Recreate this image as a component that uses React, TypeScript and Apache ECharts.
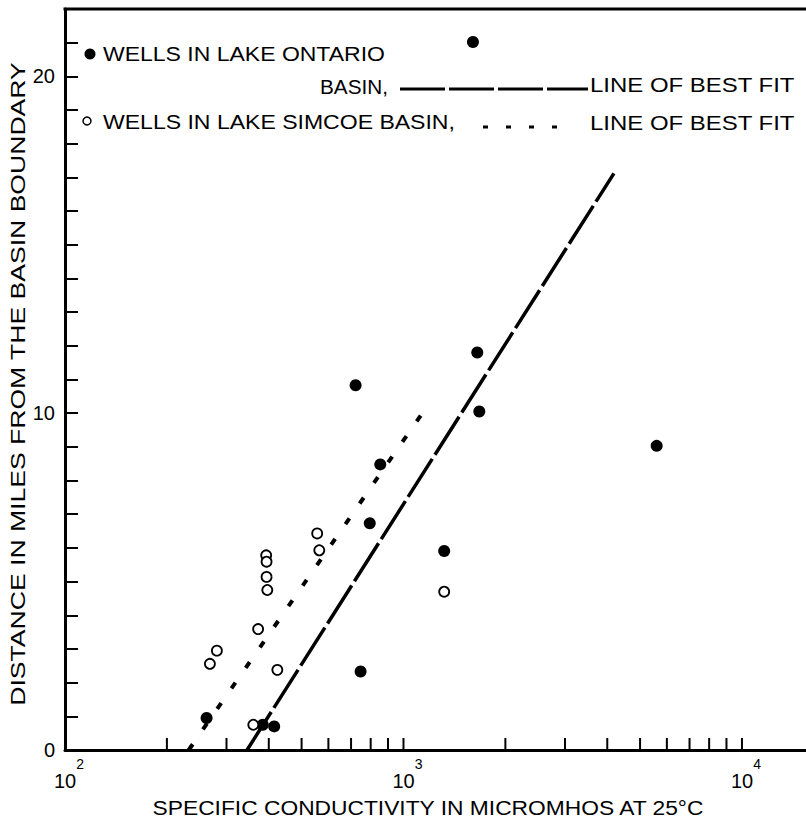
import React, { useEffect, useRef } from "react";
import * as echarts from "echarts";

// Lake Ontario basin wells (filled circles)
const ontarioConductivity = [1604, 1652, 722, 1675, 5598, 854, 795, 1319, 747, 262, 384, 415];
const ontarioDistance = [21.02, 11.8, 10.83, 10.05, 9.03, 8.48, 6.73, 5.91, 2.33, 0.95, 0.75, 0.7];
// Lake Simcoe basin wells (open circles)
const simcoeConductivity = [393, 394, 394, 396, 556, 564, 372, 281, 268, 424, 360, 1319];
const simcoeDistance = [5.78, 5.59, 5.14, 4.75, 6.43, 5.93, 3.59, 2.95, 2.56, 2.38, 0.75, 4.7];
// Lines of best fit (end points)
const ontarioFitConductivity = [345, 4186];
const ontarioFitDistance = [0, 17.12];
const simcoeFitConductivity = [232, 1144];
const simcoeFitDistance = [0, 10.04];
// Axis ticks / labels
const xTickValues = [200, 300, 400, 500, 600, 700, 800, 900, 1000, 2000, 3000, 4000, 5000, 6000, 7000, 8000, 9000, 10000];
const yLabelValues = [0, 10, 20];
const xMin = 100;
const xMax = 15460;
const yMin = 0;
const yMax = 22;

const FONT = "Liberation Sans";

const zip = (a: number[], b: number[]) => a.map((v, i) => [v, b[i]]);

function measure(text: string, size: number): number {
  const ctx = document.createElement("canvas").getContext("2d");
  if (!ctx) return text.length * size * 0.6;
  ctx.font = `${size}px "${FONT}"`;
  return ctx.measureText(text).width;
}

type TextSpec = { t: string; x: number; y: number; w: number; size: number; rot?: number; align?: string };

const textSpecs: TextSpec[] = [
  { t: "WELLS IN LAKE ONTARIO", x: 103, y: 54, w: 282, size: 21 },
  { t: "BASIN,", x: 320, y: 86, w: 68, size: 21 },
  { t: "LINE OF BEST FIT", x: 590, y: 85, w: 205, size: 21 },
  { t: "WELLS IN LAKE SIMCOE BASIN,", x: 103, y: 122, w: 352, size: 21 },
  { t: "LINE OF BEST FIT", x: 590, y: 123, w: 205, size: 21 },
  { t: "SPECIFIC CONDUCTIVITY IN MICROMHOS AT 25°C", x: 428, y: 808, w: 553, size: 21, align: "center" },
  { t: "DISTANCE IN MILES FROM THE BASIN BOUNDARY", x: 18, y: 384, w: 644, size: 21, rot: Math.PI / 2, align: "center" },
];

export default function App() {
  const ref = useRef<HTMLDivElement>(null);

  useEffect(() => {
    if (!ref.current) return;
    const chart = echarts.init(ref.current, undefined, { renderer: "svg" });

    const textGraphics = textSpecs.map((s) => {
      const natural = measure(s.t, s.size);
      return {
        type: "text",
        x: s.x,
        y: s.y,
        rotation: s.rot || 0,
        scaleX: s.w / natural,
        style: {
          text: s.t,
          x: 0,
          y: 0,
          fill: "#000",
          font: `${s.size}px "${FONT}"`,
          textAlign: s.align || "left",
          textVerticalAlign: "middle",
        },
        silent: true,
      };
    });

    const option: any = {
      animation: false,
      backgroundColor: "#fff",
      textStyle: { fontFamily: FONT, color: "#000" },
      grid: { left: 65, right: 0, top: 9, bottom: 75, containLabel: false, outerBoundsMode: "none" },
      xAxis: {
        type: "log",
        logBase: 10,
        min: xMin,
        max: xMax,
        axisLine: { show: true, onZero: false, lineStyle: { color: "#000", width: 3 } },
        axisTick: { show: false },
        splitLine: { show: false },
        minorTick: { show: false },
        minorSplitLine: { show: false },
        axisLabel: {
          show: true,
          margin: 7,
          color: "#000",
          formatter: (v: number) => {
            const e = Math.round(Math.log10(v));
            if (Math.abs(v - Math.pow(10, e)) > 1e-6 * v) return "";
            return `{p| }{b|10}{s|${e}}`;
          },
          rich: {
            p: { width: 8, fontSize: 14, lineHeight: 10, verticalAlign: "top" },
            b: { fontSize: 20, lineHeight: 34, verticalAlign: "bottom", fontFamily: FONT, color: "#000" },
            s: { fontSize: 14, lineHeight: 10, verticalAlign: "top", fontFamily: FONT, color: "#000" },
          },
        },
      },
      yAxis: {
        type: "value",
        min: yMin,
        max: yMax,
        interval: 1,
        position: "left",
        axisLine: { show: true, onZero: false, lineStyle: { color: "#000", width: 3 } },
        axisTick: { show: true, inside: true, length: 13, lineStyle: { color: "#000", width: 2 } },
        splitLine: { show: false },
        axisLabel: {
          margin: 10,
          color: "#000",
          fontSize: 20,
          fontFamily: FONT,
          formatter: (v: number) => (yLabelValues.includes(v) ? String(v) : ""),
        },
      },
      series: [
        {
          type: "custom",
          name: "xTicks",
          silent: true,
          clip: false,
          data: xTickValues.map((v) => [v, 0]),
          renderItem: (_p: any, api: any) => {
            const pt = api.coord([api.value(0), api.value(1)]);
            return {
              type: "line",
              shape: { x1: pt[0], y1: pt[1], x2: pt[0], y2: pt[1] - 12 },
              style: { stroke: "#000", lineWidth: 2 },
            };
          },
          z: 5,
        },
        {
          type: "line",
          name: "Ontario fit",
          data: zip(ontarioFitConductivity, ontarioFitDistance),
          symbol: "none",
          silent: true,
          lineStyle: { color: "#000", width: 3.5, type: [45, 5], cap: "butt" },
          z: 3,
        },
        {
          type: "line",
          name: "Simcoe fit",
          data: zip(simcoeFitConductivity, simcoeFitDistance),
          symbol: "none",
          silent: true,
          lineStyle: { color: "#000", width: 4, type: [7, 18], cap: "butt" },
          z: 3,
        },
        {
          type: "scatter",
          name: "Wells in Lake Ontario basin",
          data: zip(ontarioConductivity, ontarioDistance),
          symbol: "circle",
          symbolSize: 12,
          itemStyle: { color: "#000", opacity: 1 },
          z: 4,
        },
        {
          type: "scatter",
          name: "Wells in Lake Simcoe basin",
          data: zip(simcoeConductivity, simcoeDistance),
          symbol: "circle",
          symbolSize: 10,
          itemStyle: { color: "#fff", borderColor: "#000", borderWidth: 1.8, opacity: 1 },
          z: 4,
        },
      ],
      graphic: [
        ...textGraphics,
        {
          type: "line",
          shape: { x1: 63.5, y1: 9, x2: 806, y2: 9 },
          style: { stroke: "#000", lineWidth: 3 },
          silent: true,
        },
        { type: "circle", shape: { cx: 90, cy: 54, r: 5.5 }, style: { fill: "#000" }, silent: true },
        { type: "circle", shape: { cx: 87, cy: 121, r: 4 }, style: { fill: "#fff", stroke: "#000", lineWidth: 1.5 }, silent: true },
        {
          type: "line",
          shape: { x1: 400, y1: 89, x2: 588, y2: 89 },
          style: { stroke: "#000", lineWidth: 3, lineDash: [45, 4] },
          silent: true,
        },
        {
          type: "line",
          shape: { x1: 483, y1: 127, x2: 560, y2: 127 },
          style: { stroke: "#000", lineWidth: 3, lineDash: [5, 18] },
          silent: true,
        },
      ],
    };

    chart.setOption(option);
    return () => chart.dispose();
  }, []);

  return <div ref={ref} style={{ position: "absolute", left: 0, top: 0, width: 806, height: 825 }} />;
}
